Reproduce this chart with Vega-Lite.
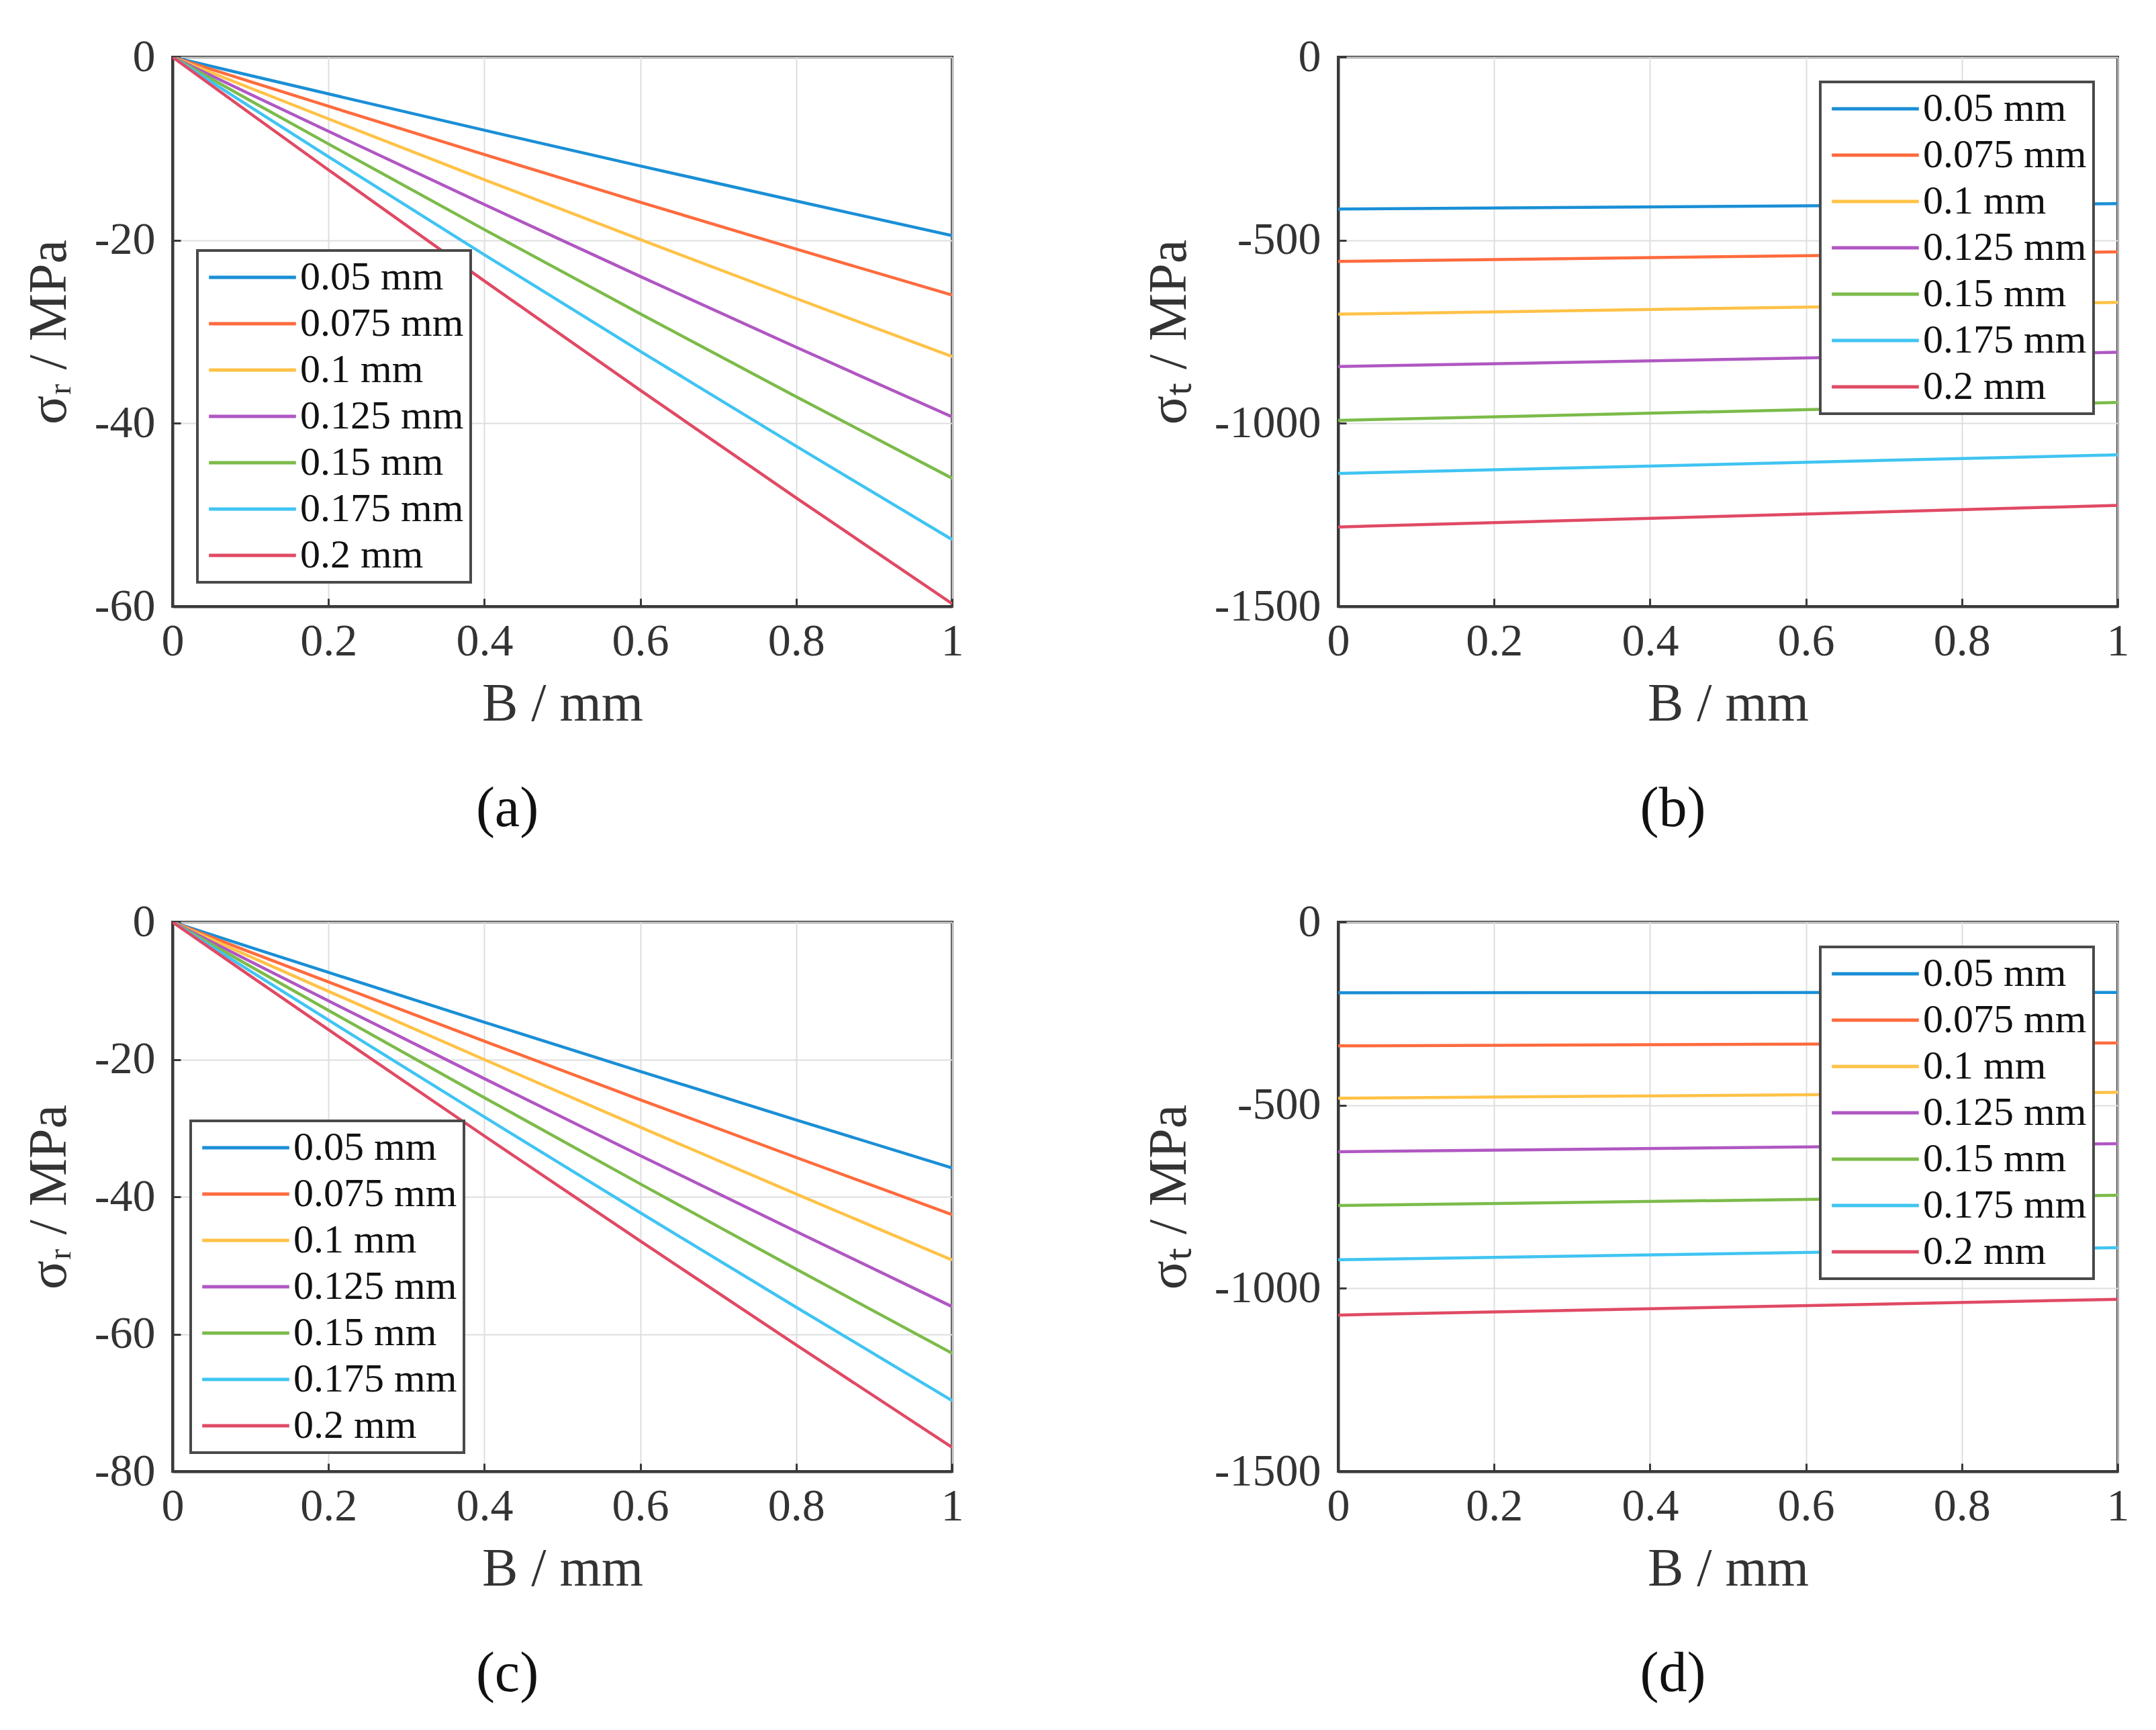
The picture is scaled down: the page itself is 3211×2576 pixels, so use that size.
{
"$schema": "https://vega.github.io/schema/vega-lite/v6.json",
"background": "white",
"padding": {"left": 31, "top": 49, "right": 10, "bottom": 10},
"config": {
  "font": "Liberation Serif",
  "view": {"stroke": "#3a3a3a", "strokeWidth": 4},
  "axis": {
    "labelFont": "Liberation Serif", "labelFontSize": 68, "labelColor": "#333333", "labelLimit": 0, "labelFlush": false,
    "labelExpr": "'' + datum.value",
    "titleFont": "Liberation Serif", "titleFontSize": 80, "titleFontWeight": "normal", "titleColor": "#333333",
    "domainColor": "#3a3a3a", "domainWidth": 4,
    "tickColor": "#3a3a3a", "tickWidth": 3, "tickSize": -12,
    "gridColor": "#dedede", "gridWidth": 2,
    "titlePadding": 20
  },
  "axisX": {"labelPadding": 30},
  "axisY": {"labelPadding": 38, "titlePadding": 26},
  "legend": {
    "labelFont": "Liberation Serif", "labelFontSize": 60, "labelColor": "#111111", "labelLimit": 0,
    "strokeColor": "#4a4a4a", "strokeWidth": 4, "fillColor": "white",
    "padding": 10, "rowPadding": 9,
    "symbolType": "M-4,0H4", "symbolSize": 1050, "symbolStrokeWidth": 5,
    "symbolOffset": 42, "labelOffset": 41
  },
  "title": {"font": "Liberation Serif", "fontSize": 84, "fontWeight": "normal", "color": "#111111", "dx": -82}
},
"spacing": 88,
"resolve": {"legend": {"color": "independent"}, "scale": {"color": "independent"}},
"vconcat": [
{
  "spacing": 262,
  "resolve": {"legend": {"color": "independent"}, "scale": {"color": "independent"}},
  "hconcat": [
  {
    "width": 1161, "height": 818,
    "title": {"text": "(a)", "orient": "bottom", "offset": 76},
    "data": {"values": [
      {"B":0,"s":"0.05 mm","v":0},{"B":0.1,"s":"0.05 mm","v":-2.02},{"B":0.2,"s":"0.05 mm","v":-4.02},{"B":0.4,"s":"0.05 mm","v":-7.99},{"B":0.6,"s":"0.05 mm","v":-11.89},{"B":0.8,"s":"0.05 mm","v":-15.72},{"B":1,"s":"0.05 mm","v":-19.5},
      {"B":0,"s":"0.075 mm","v":0},{"B":0.1,"s":"0.075 mm","v":-2.69},{"B":0.2,"s":"0.075 mm","v":-5.37},{"B":0.4,"s":"0.075 mm","v":-10.65},{"B":0.6,"s":"0.075 mm","v":-15.85},{"B":0.8,"s":"0.075 mm","v":-20.97},{"B":1,"s":"0.075 mm","v":-26.0},
      {"B":0,"s":"0.1 mm","v":0},{"B":0.1,"s":"0.1 mm","v":-3.39},{"B":0.2,"s":"0.1 mm","v":-6.75},{"B":0.4,"s":"0.1 mm","v":-13.39},{"B":0.6,"s":"0.1 mm","v":-19.93},{"B":0.8,"s":"0.1 mm","v":-26.37},{"B":1,"s":"0.1 mm","v":-32.7},
      {"B":0,"s":"0.125 mm","v":0},{"B":0.1,"s":"0.125 mm","v":-4.07},{"B":0.2,"s":"0.125 mm","v":-8.11},{"B":0.4,"s":"0.125 mm","v":-16.10},{"B":0.6,"s":"0.125 mm","v":-23.96},{"B":0.8,"s":"0.125 mm","v":-31.69},{"B":1,"s":"0.125 mm","v":-39.3},
      {"B":0,"s":"0.15 mm","v":0},{"B":0.1,"s":"0.15 mm","v":-4.77},{"B":0.2,"s":"0.15 mm","v":-9.49},{"B":0.4,"s":"0.15 mm","v":-18.84},{"B":0.6,"s":"0.15 mm","v":-28.04},{"B":0.8,"s":"0.15 mm","v":-37.09},{"B":1,"s":"0.15 mm","v":-46.0},
      {"B":0,"s":"0.175 mm","v":0},{"B":0.1,"s":"0.175 mm","v":-5.46},{"B":0.2,"s":"0.175 mm","v":-10.88},{"B":0.4,"s":"0.175 mm","v":-21.59},{"B":0.6,"s":"0.175 mm","v":-32.13},{"B":0.8,"s":"0.175 mm","v":-42.50},{"B":1,"s":"0.175 mm","v":-52.7},
      {"B":0,"s":"0.2 mm","v":0},{"B":0.1,"s":"0.2 mm","v":-6.18},{"B":0.2,"s":"0.2 mm","v":-12.32},{"B":0.4,"s":"0.2 mm","v":-24.45},{"B":0.6,"s":"0.2 mm","v":-36.39},{"B":0.8,"s":"0.2 mm","v":-48.14},{"B":1,"s":"0.2 mm","v":-59.7}
    ]},
    "mark": {"type": "line", "strokeWidth": 4.5, "clip": true},
    "encoding": {
      "x": {"field": "B", "type": "quantitative", "scale": {"domain": [0, 1], "nice": false}, "axis": {"values": [0, 0.2, 0.4, 0.6, 0.8, 1], "title": "B / mm"}},
      "y": {"field": "v", "type": "quantitative", "scale": {"domain": [-60, 0], "nice": false}, "axis": {"values": [-60, -40, -20, 0], "title": "σᵣ / MPa"}},
      "color": {"field": "s", "type": "nominal",
        "scale": {"domain": ["0.05 mm","0.075 mm","0.1 mm","0.125 mm","0.15 mm","0.175 mm","0.2 mm"], "range": ["#1a8fd6","#ff6b3d","#ffc247","#b057c2","#7cbb4a","#40c4f2","#e04a64"]},
        "legend": {"orient": "none", "legendX": 37, "legendY": 288, "title": null}}
    }
  },
  {
    "width": 1161, "height": 818,
    "title": {"text": "(b)", "orient": "bottom", "offset": 76},
    "data": {"values": [
      {"B":0,"s":"0.05 mm","v":-415},{"B":1,"s":"0.05 mm","v":-400},
      {"B":0,"s":"0.075 mm","v":-558},{"B":1,"s":"0.075 mm","v":-532},
      {"B":0,"s":"0.1 mm","v":-702},{"B":1,"s":"0.1 mm","v":-670},
      {"B":0,"s":"0.125 mm","v":-845},{"B":1,"s":"0.125 mm","v":-806},
      {"B":0,"s":"0.15 mm","v":-992},{"B":1,"s":"0.15 mm","v":-943},
      {"B":0,"s":"0.175 mm","v":-1137},{"B":1,"s":"0.175 mm","v":-1086},
      {"B":0,"s":"0.2 mm","v":-1283},{"B":1,"s":"0.2 mm","v":-1224}
    ]},
    "mark": {"type": "line", "strokeWidth": 4.5, "clip": true},
    "encoding": {
      "x": {"field": "B", "type": "quantitative", "scale": {"domain": [0, 1], "nice": false}, "axis": {"values": [0, 0.2, 0.4, 0.6, 0.8, 1], "title": "B / mm"}},
      "y": {"field": "v", "type": "quantitative", "scale": {"domain": [-1500, 0], "nice": false}, "axis": {"values": [-1500, -1000, -500, 0], "title": "σₜ / MPa"}},
      "color": {"field": "s", "type": "nominal",
        "scale": {"domain": ["0.05 mm","0.075 mm","0.1 mm","0.125 mm","0.15 mm","0.175 mm","0.2 mm"], "range": ["#1a8fd6","#ff6b3d","#ffc247","#b057c2","#7cbb4a","#40c4f2","#e04a64"]},
        "legend": {"orient": "none", "legendX": 718, "legendY": 37, "title": null}}
    }
  }
  ]
},
{
  "spacing": 262,
  "resolve": {"legend": {"color": "independent"}, "scale": {"color": "independent"}},
  "hconcat": [
  {
    "width": 1161, "height": 818,
    "title": {"text": "(c)", "orient": "bottom", "offset": 76},
    "data": {"values": [
      {"B":0,"s":"0.05 mm","v":0},{"B":0.1,"s":"0.05 mm","v":-3.68},{"B":0.2,"s":"0.05 mm","v":-7.33},{"B":0.4,"s":"0.05 mm","v":-14.58},{"B":0.6,"s":"0.05 mm","v":-21.74},{"B":0.8,"s":"0.05 mm","v":-28.81},{"B":1,"s":"0.05 mm","v":-35.8},
      {"B":0,"s":"0.075 mm","v":0},{"B":0.1,"s":"0.075 mm","v":-4.38},{"B":0.2,"s":"0.075 mm","v":-8.72},{"B":0.4,"s":"0.075 mm","v":-17.35},{"B":0.6,"s":"0.075 mm","v":-25.87},{"B":0.8,"s":"0.075 mm","v":-34.28},{"B":1,"s":"0.075 mm","v":-42.6},
      {"B":0,"s":"0.1 mm","v":0},{"B":0.1,"s":"0.1 mm","v":-5.05},{"B":0.2,"s":"0.1 mm","v":-10.08},{"B":0.4,"s":"0.1 mm","v":-20.03},{"B":0.6,"s":"0.1 mm","v":-29.87},{"B":0.8,"s":"0.1 mm","v":-39.60},{"B":1,"s":"0.1 mm","v":-49.2},
      {"B":0,"s":"0.125 mm","v":0},{"B":0.1,"s":"0.125 mm","v":-5.75},{"B":0.2,"s":"0.125 mm","v":-11.47},{"B":0.4,"s":"0.125 mm","v":-22.80},{"B":0.6,"s":"0.125 mm","v":-34.00},{"B":0.8,"s":"0.125 mm","v":-45.07},{"B":1,"s":"0.125 mm","v":-56.0},
      {"B":0,"s":"0.15 mm","v":0},{"B":0.1,"s":"0.15 mm","v":-6.45},{"B":0.2,"s":"0.15 mm","v":-12.86},{"B":0.4,"s":"0.15 mm","v":-25.57},{"B":0.6,"s":"0.15 mm","v":-38.13},{"B":0.8,"s":"0.15 mm","v":-50.54},{"B":1,"s":"0.15 mm","v":-62.8},
      {"B":0,"s":"0.175 mm","v":0},{"B":0.1,"s":"0.175 mm","v":-7.16},{"B":0.2,"s":"0.175 mm","v":-14.27},{"B":0.4,"s":"0.175 mm","v":-28.38},{"B":0.6,"s":"0.175 mm","v":-42.32},{"B":0.8,"s":"0.175 mm","v":-56.09},{"B":1,"s":"0.175 mm","v":-69.7},
      {"B":0,"s":"0.2 mm","v":0},{"B":0.1,"s":"0.2 mm","v":-7.86},{"B":0.2,"s":"0.2 mm","v":-15.67},{"B":0.4,"s":"0.2 mm","v":-31.15},{"B":0.6,"s":"0.2 mm","v":-46.45},{"B":0.8,"s":"0.2 mm","v":-61.57},{"B":1,"s":"0.2 mm","v":-76.5}
    ]},
    "mark": {"type": "line", "strokeWidth": 4.5, "clip": true},
    "encoding": {
      "x": {"field": "B", "type": "quantitative", "scale": {"domain": [0, 1], "nice": false}, "axis": {"values": [0, 0.2, 0.4, 0.6, 0.8, 1], "title": "B / mm"}},
      "y": {"field": "v", "type": "quantitative", "scale": {"domain": [-80, 0], "nice": false}, "axis": {"values": [-80, -60, -40, -20, 0], "title": "σᵣ / MPa"}},
      "color": {"field": "s", "type": "nominal",
        "scale": {"domain": ["0.05 mm","0.075 mm","0.1 mm","0.125 mm","0.15 mm","0.175 mm","0.2 mm"], "range": ["#1a8fd6","#ff6b3d","#ffc247","#b057c2","#7cbb4a","#40c4f2","#e04a64"]},
        "legend": {"orient": "none", "legendX": 27, "legendY": 296, "title": null}}
    }
  },
  {
    "width": 1161, "height": 818,
    "title": {"text": "(d)", "orient": "bottom", "offset": 76},
    "data": {"values": [
      {"B":0,"s":"0.05 mm","v":-193},{"B":1,"s":"0.05 mm","v":-192},
      {"B":0,"s":"0.075 mm","v":-338},{"B":1,"s":"0.075 mm","v":-330},
      {"B":0,"s":"0.1 mm","v":-481},{"B":1,"s":"0.1 mm","v":-465},
      {"B":0,"s":"0.125 mm","v":-627},{"B":1,"s":"0.125 mm","v":-605},
      {"B":0,"s":"0.15 mm","v":-774},{"B":1,"s":"0.15 mm","v":-746},
      {"B":0,"s":"0.175 mm","v":-922},{"B":1,"s":"0.175 mm","v":-889},
      {"B":0,"s":"0.2 mm","v":-1073},{"B":1,"s":"0.2 mm","v":-1030}
    ]},
    "mark": {"type": "line", "strokeWidth": 4.5, "clip": true},
    "encoding": {
      "x": {"field": "B", "type": "quantitative", "scale": {"domain": [0, 1], "nice": false}, "axis": {"values": [0, 0.2, 0.4, 0.6, 0.8, 1], "title": "B / mm"}},
      "y": {"field": "v", "type": "quantitative", "scale": {"domain": [-1500, 0], "nice": false}, "axis": {"values": [-1500, -1000, -500, 0], "title": "σₜ / MPa"}},
      "color": {"field": "s", "type": "nominal",
        "scale": {"domain": ["0.05 mm","0.075 mm","0.1 mm","0.125 mm","0.15 mm","0.175 mm","0.2 mm"], "range": ["#1a8fd6","#ff6b3d","#ffc247","#b057c2","#7cbb4a","#40c4f2","#e04a64"]},
        "legend": {"orient": "none", "legendX": 718, "legendY": 37, "title": null}}
    }
  }
  ]
}
]
}
